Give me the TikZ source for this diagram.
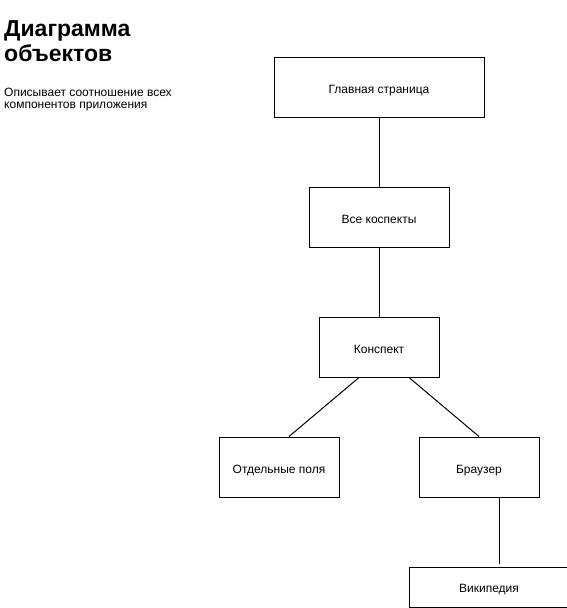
\documentclass[tikz,border=0pt]{standalone}
\usepackage{fontspec}
\setmainfont{Liberation Sans}
\usetikzlibrary{positioning}

\tikzset{
  obj/.style={draw, line width=1pt, rectangle, inner sep=0pt,
    minimum width=120pt, minimum height=60pt, text height=13pt, text depth=0pt,
    font=\fontsize{12}{14}\selectfont},
  link/.style={draw, line width=1pt}
}

\begin{document}
\begin{tikzpicture}[x=1pt, y=-1pt]
        \useasboundingbox (0,0) rectangle (566,608);

        % heading
        \node[anchor=north west, inner sep=0pt, align=left,
          font=\fontsize{23}{25}\selectfont\bfseries] at (4,20)(title){Диаграмма\\объектов};
        \node[anchor=north west, inner sep=0pt, align=left,
          font=\fontsize{12}{12}\selectfont] at (4,88)(descr){Описывает соотношение всех\\компонентов приложения};

        % objects
        \node[obj, minimum width=210pt] at (379, 87)(main){Главная страница};
        \node[obj, minimum width=140pt] at (379, 217)(all){Все коспекты};
        \node[obj] at (379, 347)(konspekt){Конспект};
        \node[obj] at (279, 467)(fields){Отдельные поля};
        \node[obj] at (479, 467)(browser){Браузер};
        \node[obj, minimum width=160pt, minimum height=40pt, text height=10pt] at (489, 587)(wiki){Википедия};

        \path[link]
        (main)edge(all)
        (all)edge(konspekt)
        ([xshift=-20pt]konspekt.south)edge([xshift=10pt]fields.north)
        ([xshift=30pt]konspekt.south)edge(browser.north)
        ([xshift=20pt]browser.south)edge([xshift=10pt,yshift=3pt]wiki.north)
        ;
    \end{tikzpicture}
\end{document}
